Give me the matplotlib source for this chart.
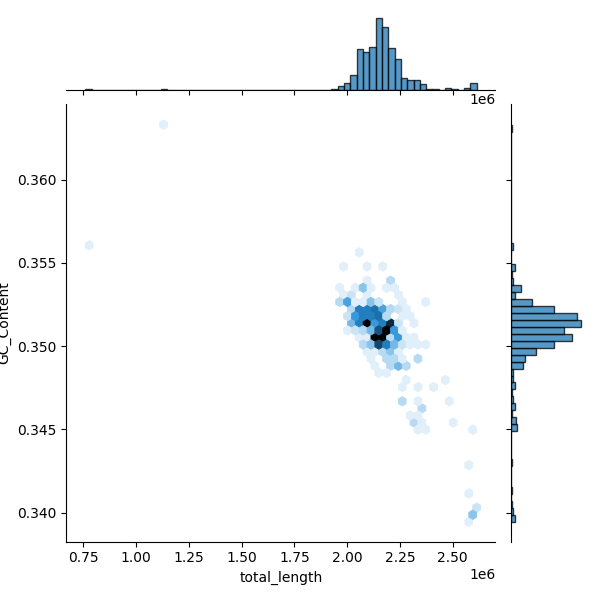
import numpy as np
import matplotlib
matplotlib.use("Agg")
import matplotlib.pyplot as plt
from matplotlib.colors import LinearSegmentedColormap
from matplotlib.ticker import FuncFormatter
import colorsys

x_min, x_max = 0.759, 2.6136
y_min, y_max = 0.33944, 0.36330

hex_rows = [
    (0.36330, [1.130], [1]),
    (0.35610, [0.7725], [1]),
    (0.35566, [2.051], [1]),
    (0.35480, [1.975, 2.089, 2.163], [1, 1, 1]),
    (0.35396, [2.089, 2.200], [1, 3]),
    (0.35354, [1.958, 2.034, 2.070, 2.107, 2.181, 2.219], [1, 1, 5, 1, 1, 1]),
    (0.35310, [1.975, 2.015, 2.089, 2.238], [1, 2, 1, 1]),
    (0.35266, [1.958, 1.996, 2.034, 2.070, 2.107, 2.144, 2.255, 2.367], [3, 8, 1, 1, 5, 2, 1, 1]),
    (0.35224, [2.015, 2.051, 2.089, 2.126, 2.163, 2.200, 2.238, 2.274], [3, 11, 11, 12, 8, 3, 2, 1]),
    (0.35180, [1.996, 2.034, 2.070, 2.107, 2.144, 2.181, 2.255, 2.291], [2, 9, 11, 11, 12, 3, 1, 1]),
    (0.35140, [2.015, 2.051, 2.089, 2.126, 2.163, 2.200, 2.238, 2.310], [6, 11, 20, 9, 11, 17, 2, 1]),
    (0.35095, [1.996, 2.034, 2.070, 2.107, 2.144, 2.181, 2.219, 2.255], [1, 2, 3, 6, 14, 20, 9, 1]),
    (0.35053, [2.051, 2.089, 2.126, 2.163, 2.200, 2.238, 2.274, 2.310], [1, 1, 20, 20, 3, 9, 1, 1]),
    (0.35009, [2.070, 2.107, 2.144, 2.181, 2.219, 2.255, 2.291, 2.329, 2.367], [3, 5, 15, 11, 6, 2, 1, 1, 1]),
    (0.34965, [2.089, 2.126, 2.163, 2.200, 2.238], [1, 1, 3, 5, 1]),
    (0.34923, [2.107, 2.181, 2.219, 2.255, 2.329], [1, 3, 3, 1, 3]),
    (0.34879, [2.144, 2.200, 2.238, 2.276], [1, 3, 6, 3]),
    (0.34839, [2.152, 2.181], [1, 1]),
    (0.34799, [2.272, 2.459], [1, 1]),
    (0.34755, [2.255, 2.328, 2.402], [1, 1, 1]),
    (0.34671, [2.255, 2.328, 2.476], [3, 1, 1]),
    (0.34629, [2.347], [3]),
    (0.34587, [2.291, 2.328], [1, 1]),
    (0.34545, [2.310, 2.347, 2.495], [3, 1, 1]),
    (0.34501, [2.328, 2.366, 2.590], [1, 1, 1]),
    (0.34288, [2.569], [1]),
    (0.34118, [2.569], [1]),
    (0.34034, [2.611], [2]),
    (0.33988, [2.590], [5]),
    (0.33942, [2.569], [1]),
]
hex_x = [v for r in hex_rows for v in r[1]]
hex_y = [r[0] for r in hex_rows for _ in r[1]]
hex_c = [v for r in hex_rows for v in r[2]]

# marginal histograms: bin index -> count
top_bins = {0: 1, 12: 1, 39: 1, 40: 4, 41: 7, 42: 15, 43: 41, 44: 38, 45: 43, 46: 71, 47: 62,
            48: 42, 49: 31, 50: 12, 51: 10, 52: 10, 53: 6, 54: 1, 55: 1, 57: 2, 58: 1, 60: 2, 61: 7}
right_bins = {0: 4, 1: 2, 2: 1, 4: 1, 8: 1, 13: 6, 14: 5, 15: 1, 16: 4, 17: 2, 18: 1, 19: 4, 20: 2,
              21: 2, 22: 12, 23: 14, 24: 25, 25: 43, 26: 61, 27: 53, 28: 70, 29: 66, 30: 43,
              31: 21, 32: 4, 33: 10, 34: 2, 35: 1, 36: 4, 39: 2, 56: 1}
x_ticks = [0.75, 1.00, 1.25, 1.50, 1.75, 2.00, 2.25, 2.50]
y_ticks = [0.340, 0.345, 0.350, 0.355, 0.360]

fig = plt.figure(figsize=(6, 6), dpi=100)
W = H = 600.0
def box(l, t, r, b):
    return [l / W, 1 - b / H, (r - l) / W, (b - t) / H]

ax = fig.add_axes(box(66.3, 104.5, 495.3, 541.5))
ax_top = fig.add_axes(box(66.3, 14.7, 495.3, 90))
ax_right = fig.add_axes(box(510.8, 104.5, 584.8, 541.5))

# seaborn's joint hex colormap: C0 hue, lightness 1 -> 0
base = colorsys.rgb_to_hls(*matplotlib.colors.to_rgb("C0"))
cols = [colorsys.hls_to_rgb(base[0], l, base[2]) for l in np.linspace(1, 0, 12)]
cmap = LinearSegmentedColormap.from_list("blend", cols)

ax.hexbin(hex_x, hex_y, C=hex_c, reduce_C_function=np.sum, gridsize=50,
          extent=(x_min, x_max, y_min, y_max), cmap=cmap, vmin=-0.5, vmax=20, linewidths=0.6)

x_edges = np.linspace(x_min, x_max, 63)
y_edges = np.linspace(y_min, y_max, 58)
ax_top.hist(x_edges[list(top_bins)] + 0.01, bins=x_edges, weights=list(top_bins.values()),
            color="C0", alpha=0.75, edgecolor="black")
ax_right.hist(y_edges[list(right_bins)] + 0.0001, bins=y_edges, weights=list(right_bins.values()),
              orientation="horizontal", color="C0", alpha=0.75, edgecolor="black")

xlim = (0.669, 2.702)
ylim = (0.33826, 0.36451)
ax.set_xlim(*xlim)
ax.set_ylim(*ylim)
ax_top.set_xlim(*xlim)
ax_right.set_ylim(*ylim)
ax.set_xticks(x_ticks)
ax.set_yticks(y_ticks)
ax_top.set_xticks(x_ticks)
ax_right.set_yticks(y_ticks)
ax.set_xlabel("total_length")
ax.set_ylabel("GC_Content")
ax.xaxis.set_major_formatter(FuncFormatter(lambda v, p: f"{v:.2f}"))
ax.yaxis.set_major_formatter(FuncFormatter(lambda v, p: f"{v:.3f}"))
ax.text(1.0, -0.085, "1e6", transform=ax.transAxes, ha="right", va="baseline", fontsize=10)
ax_top.text(1.0, -0.19, "1e6", transform=ax_top.transAxes, ha="right", va="baseline", fontsize=10)

ax.spines[["top", "right"]].set_visible(False)
ax_top.set_ylim(0, 74.55)
ax_right.set_xlim(0, 73.5)
ax_top.spines[["top", "right", "left"]].set_visible(False)
ax_right.spines[["top", "right", "bottom"]].set_visible(False)
ax_top.tick_params(axis="x", labelbottom=False)
ax_top.tick_params(axis="y", left=False, labelleft=False)
ax_right.tick_params(axis="y", labelleft=False)
ax_right.tick_params(axis="x", bottom=False, labelbottom=False)

fig.savefig("out.png", dpi=100)
